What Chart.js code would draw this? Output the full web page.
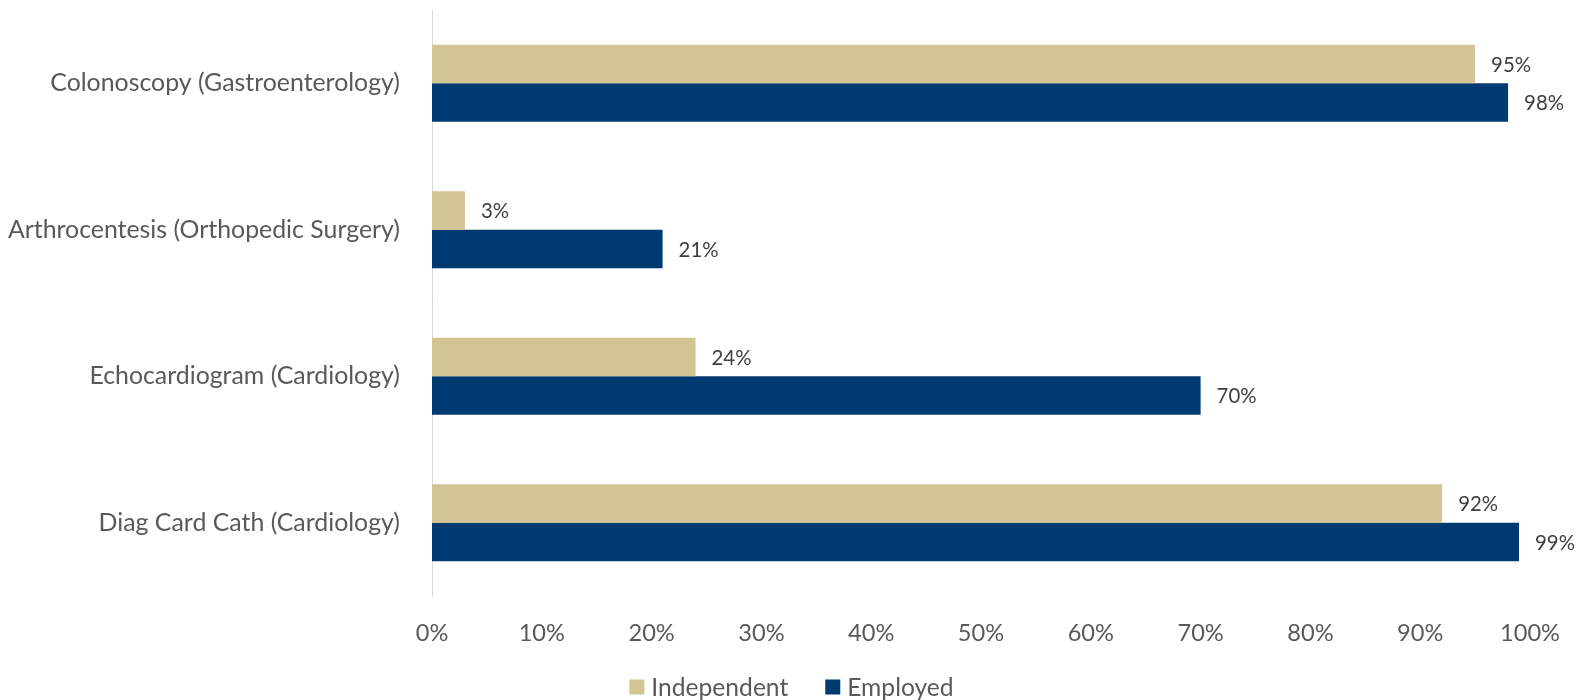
<!DOCTYPE html>
<html>
<head>
<meta charset="utf-8">
<script src="https://cdn.jsdelivr.net/npm/chart.js@4.4.0/dist/chart.umd.min.js"></script>
<style>
html,body{margin:0;padding:0;background:#ffffff;}
#wrap{width:1583px;height:700px;}
</style>
</head>
<body>
<div id="wrap"><canvas id="c" width="1583" height="700"></canvas></div>
<script>
const categories = [
  'Colonoscopy (Gastroenterology)',
  'Arthrocentesis (Orthopedic Surgery)',
  'Echocardiogram (Cardiology)',
  'Diag Card Cath (Cardiology)'
];
const seriesNames = ['Independent', 'Employed'];
const independentValues = [95, 3, 24, 92];
const employedValues = [98, 21, 70, 99];
const xTickMin = 0, xTickMax = 100, xTickStep = 10;

const FAMILY = 'Lato';
const COLOR_TAN = '#D2C493';
const COLOR_NAVY = '#003A70';
const TEXT = '#595959';
const LABEL_TEXT = '#404040';

function fitSize(text, width) {
  const ctx = document.createElement('canvas').getContext('2d');
  ctx.font = '100px ' + FAMILY;
  return 100 * width / ctx.measureText(text).width;
}
const catSize = fitSize('Colonoscopy (Gastroenterology)', 350);
const tickSize = fitSize('100%', 60);
const dlSize = fitSize('95%', 40);
const legSize = fitSize('Independent', 137);

const dataLabels = {
  id: 'dataLabels',
  afterDatasetsDraw(chart) {
    const ctx = chart.ctx;
    ctx.save();
    ctx.font = dlSize + 'px ' + FAMILY;
    ctx.fillStyle = LABEL_TEXT;
    ctx.textAlign = 'left';
    ctx.textBaseline = 'middle';
    chart.data.datasets.forEach((ds, i) => {
      chart.getDatasetMeta(i).data.forEach((el, j) => {
        ctx.fillText(ds.data[j] + '%', el.x + 16, el.y + 1);
      });
    });
    ctx.restore();
  }
};

const customLegend = {
  id: 'customLegend',
  afterDraw(chart) {
    const ctx = chart.ctx;
    ctx.save();
    ctx.font = legSize + 'px ' + FAMILY;
    ctx.textBaseline = 'middle';
    const box = 15, gap = 7, spacing = 37;
    const items = chart.data.datasets.map(ds => ({ text: ds.label, color: ds.backgroundColor, w: ctx.measureText(ds.label).width }));
    let total = 0;
    items.forEach((it, i) => { total += box + gap + it.w + (i < items.length - 1 ? spacing : 0); });
    let x = chart.width / 2 - total / 2;
    const cy = 687;
    items.forEach(it => {
      ctx.fillStyle = it.color;
      ctx.fillRect(x, cy - box / 2, box, box);
      ctx.fillStyle = TEXT;
      ctx.fillText(it.text, x + box + gap, cy + 1);
      x += box + gap + it.w + spacing;
    });
    ctx.restore();
  }
};

new Chart(document.getElementById('c'), {
  type: 'bar',
  data: {
    labels: categories,
    datasets: [
      { label: seriesNames[0], data: independentValues, backgroundColor: COLOR_TAN, categoryPercentage: 0.525, barPercentage: 1.0 },
      { label: seriesNames[1], data: employedValues, backgroundColor: COLOR_NAVY, categoryPercentage: 0.525, barPercentage: 1.0 }
    ]
  },
  options: {
    indexAxis: 'y',
    responsive: false,
    animation: false,
    devicePixelRatio: 1,
    layout: { padding: { top: 10, right: 41, left: 0, bottom: 0 } },
    plugins: {
      legend: { display: false },
      tooltip: { enabled: false }
    },
    scales: {
      x: {
        min: xTickMin, max: xTickMax,
        ticks: { stepSize: xTickStep, callback: v => v + '%', color: TEXT, font: { family: FAMILY, size: tickSize }, padding: 23 },
        grid: { display: false, drawTicks: false },
        border: { display: false },
        afterFit(scale) { scale.height = 104; }
      },
      y: {
        ticks: { color: TEXT, font: { family: FAMILY, size: catSize }, padding: 32 },
        grid: { display: false, drawTicks: false },
        border: { display: true, color: '#D9D9D9', width: 1 },
        afterFit(scale) { scale.width = 432; scale.paddingTop = 0; scale.paddingBottom = 0; }
      }
    }
  },
  plugins: [dataLabels, customLegend]
});
</script>
</body>
</html>
